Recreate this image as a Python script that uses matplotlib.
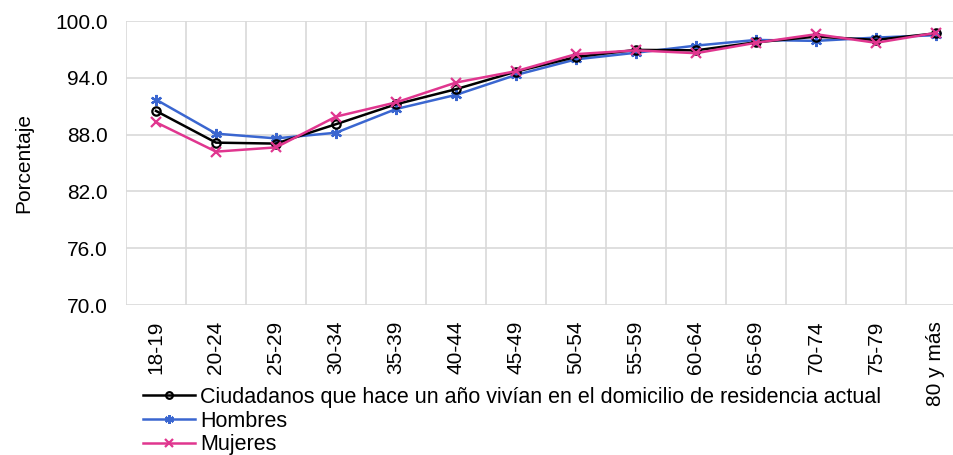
import numpy as np
import matplotlib as mpl
mpl.use('Agg')
import matplotlib.pyplot as plt

plt.rcParams['font.family'] = ['Liberation Sans', 'DejaVu Sans']

grupos = ['18-19', '20-24', '25-29', '30-34', '35-39', '40-44', '45-49',
          '50-54', '55-59', '60-64', '65-69', '70-74', '75-79', '80 y más']
total = [90.5, 87.15, 87.05, 89.1, 91.2, 92.8, 94.65,
         96.2, 96.95, 96.9, 97.75, 98.35, 98.0, 98.7]
hombres = [91.7, 88.1, 87.6, 88.2, 90.7, 92.2, 94.3,
           95.95, 96.65, 97.4, 98.0, 97.9, 98.25, 98.5]
mujeres = [89.3, 86.2, 86.65, 89.9, 91.4, 93.5, 94.7,
           96.5, 96.9, 96.6, 97.7, 98.6, 97.7, 98.75]
etiquetas = ['Ciudadanos que hace un año vivían en el domicilio de residencia actual',
             'Hombres', 'Mujeres']

fs = 15
fig = plt.figure(figsize=(9.54, 4.55), dpi=100)
ax = fig.add_axes([126/954, 150/455, 840/954, 284/455])

x = np.arange(len(grupos))
ax.plot(x, total, color='black', lw=1.8, marker='o', ms=6, mfc='none',
        mec='black', mew=1.6, label=etiquetas[0], zorder=3)
ax.plot(x, hombres, color='#3a66d0', lw=1.8, marker=(6, 2, 0), ms=8,
        mew=1.6, label=etiquetas[1], zorder=2)
ax.plot(x, mujeres, color='#e0368f', lw=1.8, marker='x', ms=7,
        mew=1.6, label=etiquetas[2], zorder=4)

ax.set_xlim(-0.5, len(grupos) - 0.5)
ax.set_ylim(70, 100)
ax.set_yticks(np.arange(70, 100.1, 6))
ax.set_yticklabels(['{:.1f}'.format(v) for v in np.arange(70, 100.1, 6)], fontsize=fs)
ax.set_xticks(x)
ax.set_xticklabels(grupos, rotation=90, fontsize=fs)
ax.set_xticks(np.arange(-0.5, len(grupos), 1), minor=True)
ax.tick_params(axis='both', which='both', length=0)
ax.tick_params(axis='x', pad=11.5)
ax.tick_params(axis='y', pad=13)
ax.grid(True, axis='y', color='#d9d9d9', lw=1.2)
ax.grid(True, axis='x', which='minor', color='#d9d9d9', lw=1.2)
ax.set_axisbelow(True)
for s in ax.spines.values():
    s.set_visible(False)
ax.set_ylabel('Porcentaje', fontsize=fs, labelpad=16)

leg = fig.legend(loc='upper left', bbox_to_anchor=(143/954, 1 - 387/455), frameon=False,
                 fontsize=15.5, handlelength=2.4, handletextpad=0.25, labelspacing=0.12,
                 borderpad=0, borderaxespad=0, markerscale=0.8)

fig.savefig('out.png', dpi=100)
